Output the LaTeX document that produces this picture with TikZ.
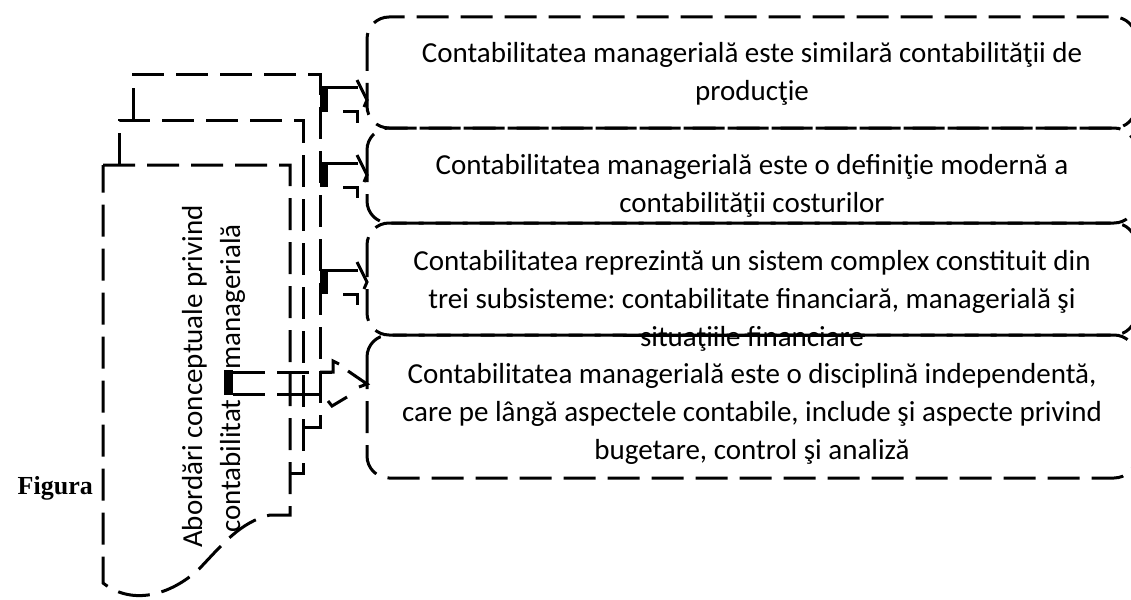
\documentclass[tikz,border=0pt]{standalone}
\usepackage{fontspec}
\setmainfont{Carlito}
\newfontfamily\figfont{Liberation Serif}
\frenchspacing
\begin{document}
\begin{tikzpicture}[x=1pt,y=-1pt,
  dl/.style={line width=3pt, dash pattern=on 32pt off 12pt},
  sl/.style={line width=3pt},
  boxline/.style={line width=3pt, dash pattern=on 32pt off 12pt, rounded corners=22pt},
  txt/.style={font=\fontsize{29}{37.5}\selectfont, anchor=base, inner sep=0pt},
  vtxt/.style={font=\fontsize{29}{37.5}\selectfont, anchor=base west, inner sep=0pt, rotate=90},
]
\useasboundingbox (0,0) rectangle (1131,599);

% right boxes
\coordinate (b1nw) at (367,17);  \coordinate (b1se) at (1136,128);
\coordinate (b2nw) at (367,128); \coordinate (b2se) at (1136,223);
\coordinate (b3nw) at (367,223); \coordinate (b3se) at (1136,335);
\coordinate (b4nw) at (367,335); \coordinate (b4se) at (1136,478);
\draw[boxline] (b1nw) rectangle (b1se);
\draw[boxline] (b2nw) rectangle (b2se);
\draw[boxline] (b3nw) rectangle (b3se);
\draw[boxline] (b4nw) rectangle (b4se);

% box texts
\node[txt] (t1a) at (752,63)  {Contabilitatea managerială este similară contabilităţii de};
\node[txt] (t1b) at (752,100) {producţie};
\node[txt] (t2a) at (752,174) {Contabilitatea managerială este o definiţie modernă a};
\node[txt] (t2b) at (752,212) {contabilităţii costurilor};
\node[txt] (t3a) at (752,270) {Contabilitatea reprezintă un sistem complex constituit din};
\node[txt] (t3b) at (752,308) {trei subsisteme: contabilitate financiară, managerială şi};
\node[txt] (t3c) at (752,346) {situaţiile financiare};
\node[txt] (t4a) at (752,383) {Contabilitatea managerială este o disciplină independentă,};
\node[txt] (t4b) at (752,421) {care pe lângă aspectele contabile, include şi aspecte privind};
\node[txt] (t4c) at (752,459) {bugetare, control şi analiză};
\draw[sl] (623,335) -- (865,335);

% stacked left shapes
\draw[dl] (133,120) -- (133,75) -- (320,75) -- (320,427) -- (303,427);
\draw[dl] (119,165) -- (119,120) -- (303,120) -- (303,473) -- (290,473);
\draw[dl] (103,165) -- (290,165) -- (290,515) -- (270,515)
  .. controls (240,522) and (222,545) .. (200,568)
  .. controls (175,592) and (135,608) .. (103,583) -- cycle;

% vertical title
\node[vtxt] (v1) at (202,548) {Abordări conceptuale privind};
\node[vtxt] (v2) at (240,533) {contabilitat\hspace{30pt}managerială};

% connectors 1-3
\foreach \y [count=\i] in {88,163,270} {
  \fill (320,\y-1) rectangle (328,\y+24);
  \draw[sl] (320,\y) -- (358,\y);
  \draw[sl] (357,\y-8) -- (367,\y+12) -- (364,\y+19);
  \draw[sl] (343,\y+24) -- (357,\y+24) -- (357,\y+35);
}

% connector 4
\fill (224,370) rectangle (233,395);
\draw[dl] (233,372) -- (332,372);
\draw[sl] (320,372) -- (333,372) -- (333,361) -- (339,364);
\draw[sl] (348,371) -- (367,384) -- (359,387);
\draw[dl] (233,394) -- (290,394);
\draw[sl] (289,394) -- (320,394);
\draw[sl] (328,401) -- (332,406) -- (347,397);

% figure label
\node[font=\figfont\bfseries\fontsize{26}{30}\selectfont, anchor=base east, inner sep=0pt] (fig) at (93,494) {Figura};
\end{tikzpicture}
\end{document}
